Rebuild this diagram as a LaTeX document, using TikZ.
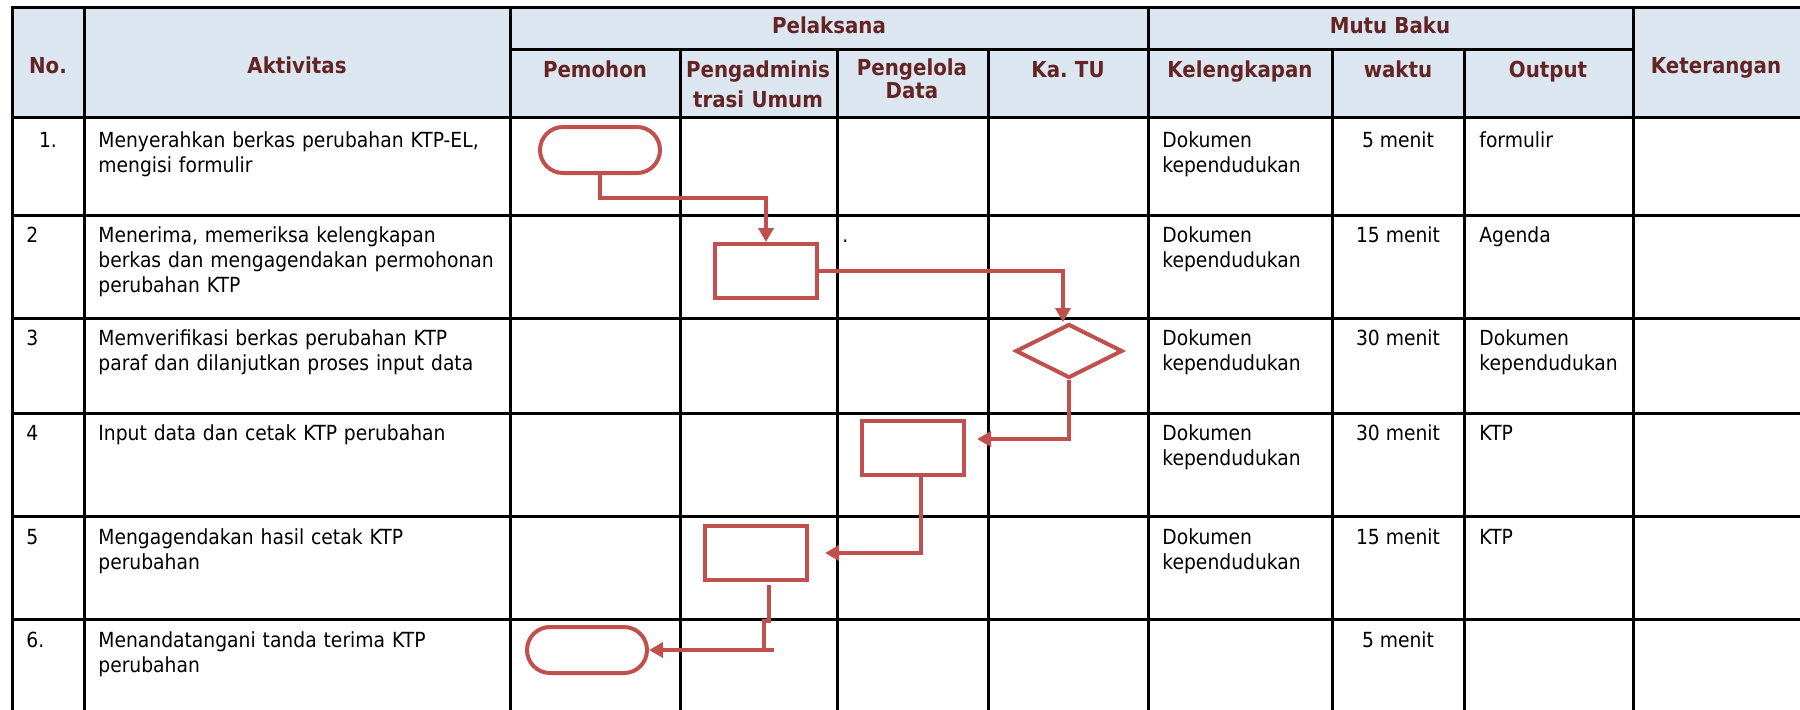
\documentclass[tikz,border=0pt]{standalone}
\usepackage{fontspec}
\setmainfont{DejaVu Sans}[FakeStretch=0.9]
\usetikzlibrary{arrows.meta,calc,positioning,shapes.geometric}
\definecolor{headblue}{HTML}{DCE6F1}
\definecolor{headtext}{HTML}{632423}
\definecolor{flowred}{HTML}{C0504D}
\newcommand{\bodyfont}{\fontsize{10.4}{12.5}\selectfont}
\newcommand{\headfont}{\fontsize{11}{15}\selectfont\bfseries}

\begin{document}
\begin{tikzpicture}[x=0.5pt,y=-0.5pt,>={Triangle[width=7.5pt,length=7pt]},
  rule/.style={line width=1.5pt,black,line cap=rect},
  flow/.style={line width=2pt,flowred},
  term/.style={draw=flowred,line width=2pt,rounded corners=11.5pt,minimum width=60pt,minimum height=23pt,inner sep=0pt},
  proc/.style={draw=flowred,line width=2pt,minimum width=51pt,minimum height=27pt,inner sep=0pt},
  dec/.style={diamond,draw=flowred,line width=2pt,minimum width=53.5pt,minimum height=27pt,inner sep=0pt},
  head/.style={font=\headfont,text=headtext,anchor=base,inner sep=0pt,align=center,text width=80pt},
  txt/.style={font=\bodyfont,anchor=base west,inner sep=0pt,align=left,text width=#1},
  txt/.default=215pt,
  num/.style={font=\bodyfont,anchor=base west,inner sep=0pt}]
  \useasboundingbox (0,0) rectangle (1800,709);

  % table
  \fill[headblue] (12,7) rectangle (1800,117);
  \foreach \y in {7,117,215,318,413,516,619}
    \draw[rule] (12,\y) -- (1800,\y);
  \draw[rule] (510,49) -- (1633,49);
  \foreach \x in {12,84,510,1148,1633}
    \draw[rule] (\x,7) -- (\x,709);
  \foreach \x in {680,837,988,1332,1464}
    \draw[rule] (\x,49) -- (\x,709);

  % header
  \node[head] (hno) at (48,73) {No.};
  \node[head,text width=150pt] (hakt) at (297,73) {Aktivitas};
  \node[head,text width=200pt] (hpel) at (829,33) {Pelaksana};
  \node[head,text width=200pt] (hmutu) at (1390,33) {Mutu Baku};
  \node[head] (hket) at (1716,73) {Keterangan};
  \node[head] (hpem) at (595,77) {Pemohon};
  \node[head] (hadm) at (758,77) {Pengadminis\\trasi Umum};
  \node[head,font=\fontsize{11}{11.5}\selectfont\bfseries] (hpeng) at (912,75) {Pengelola\\Data};
  \node[head] (hka) at (1068,77) {Ka.\ TU};
  \node[head] (hkel) at (1240,77) {Kelengkapan};
  \node[head] (hwkt) at (1398,77) {waktu};
  \node[head] (hout) at (1548,77) {Output};

  % nomor dan aktivitas
  \node[num,anchor=base] (n1) at (48,147) {1.};
  \node[num] (n2) at (26,242) {2};
  \node[num] (n3) at (26,345) {3};
  \node[num] (n4) at (26,440) {4};
  \node[num] (n5) at (26,544) {5};
  \node[num] (n6) at (26,647) {6.};
  \node[txt] (a1) at (98,147) {\makebox[198.5pt][s]{Menyerahkan berkas perubahan KTP-EL,}\\mengisi formulir};
  \node[txt] (a2) at (98,242) {Menerima, memeriksa kelengkapan\\berkas dan mengagendakan permohonan\\perubahan KTP};
  \node[txt] (a3) at (98,345) {Memverifikasi berkas perubahan KTP\\paraf dan dilanjutkan proses input data};
  \node[txt] (a4) at (98,440) {Input data dan cetak KTP perubahan};
  \node[txt] (a5) at (98,544) {Mengagendakan hasil cetak KTP\\perubahan};
  \node[txt] (a6) at (98,647) {Menandatangani tanda terima KTP\\perubahan};
  \node[num] (dot) at (842,242) {.};

  % mutu baku
  \foreach \yb/\i in {147/1,242/2,345/3,440/4,544/5}
    \node[txt=140pt] (k\i) at (1162,\yb) {Dokumen\\kependudukan};
  \foreach \yb/\i/\w in {147/1/5,242/2/15,345/3/30,440/4/30,544/5/15,647/6/5}
    \node[num,anchor=base] (w\i) at (1398,\yb) {\w{} menit};
  \node[txt=140pt] (o1) at (1479,147) {formulir};
  \node[txt=140pt] (o2) at (1479,242) {Agenda};
  \node[txt=140pt] (o3) at (1479,345) {Dokumen\\kependudukan};
  \node[txt=140pt] (o4) at (1479,440) {KTP};
  \node[txt=140pt] (o5) at (1479,544) {KTP};

  % flowchart
  \node[term] (t1) at (600,150) {};
  \node[proc] (b2) at (766,271) {};
  \node[dec]  (d3) at (1069,351) {};
  \node[proc] (b4) at (913,448) {};
  \node[proc] (b5) at (756,553) {};
  \node[term] (t6) at (587,650) {};

  \draw[flow,->] (t1.south) -- ++(0,23) -| (b2.north);
  \draw[flow,->] (b2.east) -| ([xshift=-3pt]d3.north);
  \draw[flow,->] (d3.south) |- ($(b4.east)+(11,-9)$);
  \draw[flow,->] ($(b4.south)+(8,0)$) |- ($(b5.east)+(16,0)$);
  \draw[flow] ($(b5.south)+(13,3)$) -- ++(0,36) -- ++(-5,0) |- ($(t6.east)+(125,0)$);
  \draw[flow,->] ($(t6.east)+(125,0)$) -- (t6.east);
\end{tikzpicture}
\end{document}
